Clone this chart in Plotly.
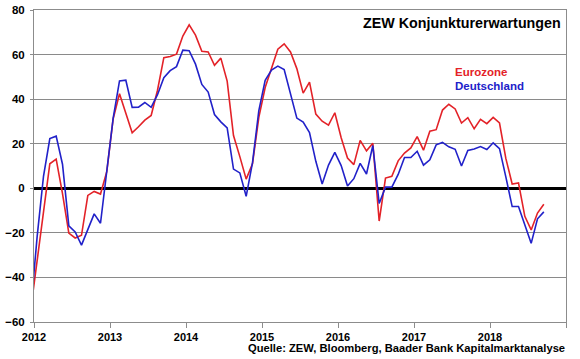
import plotly.graph_objects as go

# Monthly data, Dec 2011 .. Sep 2018
start_year, start_month = 2011, 12
eurozone = [
    -54.1,
    -32.5, -11.0, 11.0, 13.1, -2.4, -20.1, -22.3, -21.1, -3.2, -1.4, -2.6, 7.6,
    31.2, 42.4, 33.4, 24.9, 27.6, 30.6, 32.7, 44.0, 58.6, 59.1, 60.2, 68.3,
    73.3, 68.7, 61.5, 61.2, 55.2, 58.4, 48.1, 23.7, 14.2, 4.1, 11.0, 31.8,
    45.2, 53.7, 62.4, 64.8, 61.2, 53.7, 42.7, 47.6, 33.3, 30.1, 28.3, 33.9,
    22.7, 13.6, 10.6, 21.5, 16.8, 20.2, -14.7, 4.6, 5.4, 12.3, 15.8, 18.1,
    23.2, 17.1, 25.6, 26.3, 35.1, 37.7, 35.6, 29.3, 31.7, 26.7, 30.9, 29.0,
    31.8, 29.3, 13.4, 1.9, 2.4, -12.6, -18.7, -11.1, -7.2,
]
deutschland = [
    -53.8,
    -21.6, 5.4, 22.3, 23.4, 10.8, -16.9, -19.6, -25.5, -18.2, -11.5, -15.7, 6.9,
    31.5, 48.2, 48.5, 36.3, 36.4, 38.5, 36.3, 42.0, 49.6, 52.8, 54.6, 62.0,
    61.7, 55.7, 46.6, 43.2, 33.1, 29.8, 27.1, 8.6, 6.9, -3.6, 11.5, 34.9,
    48.4, 53.0, 54.8, 53.3, 41.9, 31.5, 29.7, 25.0, 12.1, 1.9, 10.4, 16.1,
    10.2, 1.0, 4.3, 11.2, 6.4, 19.2, -6.8, 0.5, 0.5, 6.2, 13.8, 13.8,
    16.6, 10.4, 12.8, 19.5, 20.6, 18.6, 17.5, 10.0, 17.0, 17.6, 18.7, 17.4,
    20.4, 17.8, 5.1, -8.2, -8.2, -16.1, -24.7, -13.7, -10.6,
]
year_ticks = [2012, 2013, 2014, 2015, 2016, 2017, 2018, 2019]
year_labels = ["2012", "2013", "2014", "2015", "2016", "2017", "2018", ""]

# month positions (mid-month) in fractional years
x = [start_year + (start_month - 1 + i + 0.5) / 12 for i in range(len(eurozone))]

FONT = "Liberation Sans, Arial, sans-serif"
RED = "#e32228"
BLUE = "#2121c9"

fig = go.Figure()
fig.add_trace(go.Scatter(x=x, y=eurozone, mode="lines", name="Eurozone",
                         line=dict(color=RED, width=1.6)))
fig.add_trace(go.Scatter(x=x, y=deutschland, mode="lines", name="Deutschland",
                         line=dict(color=BLUE, width=1.6)))

fig.update_layout(
    width=580, height=359,
    margin=dict(l=34, r=14, t=10, b=37, autoexpand=False),
    plot_bgcolor="white", paper_bgcolor="white",
    showlegend=False,
    font=dict(family=FONT, color="black"),
)
fig.update_xaxes(
    range=[2012, 2019], tickvals=year_ticks, ticktext=year_labels,
    showgrid=False, zeroline=False, automargin=False,
    showline=True, linecolor="#8c8c8c", linewidth=1, mirror=True,
    ticks="outside", ticklen=5, tickcolor="#8c8c8c",
    tickfont=dict(family=FONT, size=11, weight=700, color="black"),
)
fig.update_yaxes(
    range=[-60, 80], dtick=20, tick0=0, automargin=False,
    showgrid=True, gridcolor="#8a8a8a", gridwidth=1,
    zeroline=True, zerolinecolor="black", zerolinewidth=3,
    showline=True, linecolor="#8c8c8c", linewidth=1, mirror=True,
    ticks="outside", ticklen=3, tickcolor="#8c8c8c",
    ticklabelstandoff=3,
    tickfont=dict(family=FONT, size=11.5, weight=700, color="black"),
)

fig.add_annotation(text="ZEW Konjunkturerwartungen", xref="paper", yref="paper",
                   x=0.9938, y=0.9593, xanchor="right", yanchor="middle",
                   showarrow=False, font=dict(family=FONT, size=14.3, weight=700, color="black"))
fig.add_annotation(text="Eurozone", xref="paper", yref="paper",
                   x=0.7875, y=0.8022, xanchor="left", yanchor="middle",
                   showarrow=False, font=dict(family=FONT, size=11.5, weight=700, color=RED))
fig.add_annotation(text="Deutschland", xref="paper", yref="paper",
                   x=0.7875, y=0.7564, xanchor="left", yanchor="middle",
                   showarrow=False, font=dict(family=FONT, size=11.5, weight=700, color=BLUE))
fig.add_annotation(text="Quelle: ZEW, Bloomberg, Baader Bank Kapitalmarktanalyse",
                   xref="paper", yref="paper", x=1.002, y=-0.0824,
                   xanchor="right", yanchor="middle", showarrow=False,
                   font=dict(family=FONT, size=11.2, weight=700, color="black"))

fig.write_html(
    "out.html",
    config={"displayModeBar": False, "staticPlot": True},
    post_script="document.body.style.margin='0px';document.body.style.overflow='hidden';",
)
